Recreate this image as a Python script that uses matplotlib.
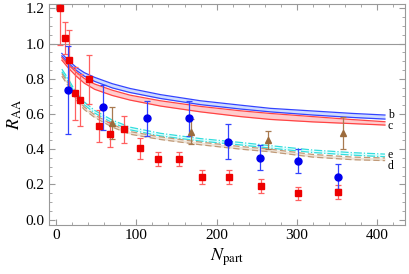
import numpy as np
import matplotlib
matplotlib.use("Agg")
import matplotlib.pyplot as plt

plt.rcParams["font.family"] = ["Liberation Serif", "DejaVu Serif"]
plt.rcParams["mathtext.fontset"] = "stix"

# ----- data -----
# red squares
red_x = [5, 10.4, 15.4, 22.9, 30, 40.4, 52.9, 67.3, 84.4, 104, 127, 153, 182, 216, 256, 302, 352]
red_y = [1.20, 1.03, 0.906, 0.717, 0.679, 0.797, 0.531, 0.484, 0.512, 0.405, 0.342, 0.342,
         0.24, 0.24, 0.19, 0.149, 0.158]
red_err = [0.21, 0.09, 0.17, 0.15, 0.15, 0.14, 0.09, 0.07, 0.075, 0.06, 0.04, 0.04,
           0.04, 0.04, 0.04, 0.038, 0.04]

# blue circles
blue_x = [14.5, 58.7, 113, 166, 214.5, 254, 301, 352]
blue_y = [0.736, 0.637, 0.575, 0.575, 0.442, 0.351, 0.332, 0.243]
blue_err = [0.25, 0.13, 0.1, 0.1, 0.1, 0.07, 0.07, 0.07]

# brown triangles
brown_x = [69.5, 167.5, 264.5, 357.5]
brown_y = [0.55, 0.50, 0.452, 0.49]
brown_err = [0.09, 0.07, 0.05, 0.09]

# theory bands
band_x = [7, 15, 25, 35, 48, 70, 92, 130, 180, 230, 267, 320, 370, 410]
b_hi = [0.944, 0.905, 0.865, 0.835, 0.808, 0.772, 0.745, 0.71, 0.675, 0.65, 0.632, 0.617, 0.603, 0.594]
b_lo = [0.930, 0.890, 0.848, 0.815, 0.785, 0.748, 0.722, 0.688, 0.653, 0.628, 0.612, 0.594, 0.580, 0.571]
c_hi = [0.920, 0.880, 0.838, 0.802, 0.770, 0.735, 0.707, 0.675, 0.643, 0.618, 0.603, 0.585, 0.568, 0.556]
c_lo = [0.906, 0.862, 0.815, 0.775, 0.740, 0.705, 0.679, 0.645, 0.612, 0.585, 0.569, 0.555, 0.545, 0.537]
e_hi = [0.855, 0.800, 0.720, 0.668, 0.620, 0.565, 0.525, 0.490, 0.460, 0.438, 0.420, 0.395, 0.380, 0.372]
e_lo = [0.840, 0.785, 0.705, 0.652, 0.605, 0.550, 0.510, 0.475, 0.446, 0.424, 0.406, 0.381, 0.366, 0.357]
d_hi = [0.830, 0.775, 0.695, 0.640, 0.595, 0.540, 0.500, 0.470, 0.440, 0.415, 0.400, 0.370, 0.355, 0.350]
d_lo = [0.815, 0.760, 0.680, 0.625, 0.580, 0.525, 0.485, 0.455, 0.425, 0.400, 0.385, 0.355, 0.340, 0.335]

band_labels = ["b", "c", "e", "d"]
label_y = [0.592, 0.530, 0.368, 0.306]

# ----- plotting -----
fig = plt.figure(figsize=(4.09, 2.74), dpi=100)
ax = fig.add_axes([49 / 409, 49 / 274, 356 / 409, 221 / 274])

ax.axhline(1.0, color="#999999", lw=0.8, zorder=1)

ax.fill_between(band_x, b_lo, b_hi, color="#cfdcff", lw=0, zorder=2)
ax.plot(band_x, b_hi, color="#3344ff", lw=0.9, zorder=3)
ax.plot(band_x, b_lo, color="#3344ff", lw=0.9, zorder=3)
ax.fill_between(band_x, c_lo, c_hi, color="#ffcccc", lw=0, zorder=2)
ax.plot(band_x, c_hi, color="#ff4444", lw=0.9, zorder=3)
ax.plot(band_x, c_lo, color="#ff4444", lw=0.9, zorder=3)

ax.fill_between(band_x, e_lo, e_hi, color="#dcffff", lw=0, zorder=2)
ax.plot(band_x, e_hi, color="#33dddd", lw=0.9, ls="-.", zorder=3)
ax.plot(band_x, e_lo, color="#33dddd", lw=0.9, ls="-.", zorder=3)
ax.fill_between(band_x, d_lo, d_hi, color="#efe4d8", lw=0, zorder=2)
ax.plot(band_x, d_hi, color="#c09a78", lw=0.9, ls=(0, (5, 2.5)), zorder=3)
ax.plot(band_x, d_lo, color="#c09a78", lw=0.9, ls=(0, (5, 2.5)), zorder=3)

for lab, yy in zip(band_labels, label_y):
    ax.text(417, yy, lab, fontsize=8.5, ha="center", va="center", zorder=5)

ax.errorbar(red_x, red_y, yerr=red_err, fmt="s", color="#ee0000", ecolor="#ff6060",
            ms=5, elinewidth=0.9, capsize=2.5, capthick=0.9, zorder=4)
ax.errorbar(blue_x, blue_y, yerr=blue_err, fmt="o", color="#0000ee", ecolor="#3344ff",
            ms=5, elinewidth=0.9, capsize=2.5, capthick=0.9, zorder=4)
ax.errorbar(brown_x, brown_y, yerr=brown_err, fmt="^", color="#9c6b3c", ecolor="#a87a50",
            ms=5, elinewidth=0.9, capsize=2.5, capthick=0.9, zorder=4)

ax.set_xlim(-9, 435)
ax.set_ylim(-0.031, 1.225)
ax.set_xticks([0, 100, 200, 300, 400])
ax.set_xticks(np.arange(0, 435, 20), minor=True)
ax.set_yticks(np.arange(0, 1.21, 0.2))
ax.set_yticks(np.arange(0, 1.22, 0.05), minor=True)
ax.set_yticklabels([f"{v:.1f}" for v in np.arange(0, 1.21, 0.2)])

for s in ax.spines.values():
    s.set_color("#999999")
    s.set_linewidth(0.8)
ax.tick_params(which="both", direction="in", top=True, right=True, color="#999999",
               labelsize=11, pad=3)
ax.tick_params(which="major", length=4, width=0.8)
ax.tick_params(which="minor", length=2, width=0.6)

ax.set_xlabel(r"$N_{\rm part}$", fontsize=13, labelpad=3)
ax.set_ylabel(r"$R_{\rm AA}$", fontsize=13, labelpad=1)

fig.savefig("out.png", dpi=100)
